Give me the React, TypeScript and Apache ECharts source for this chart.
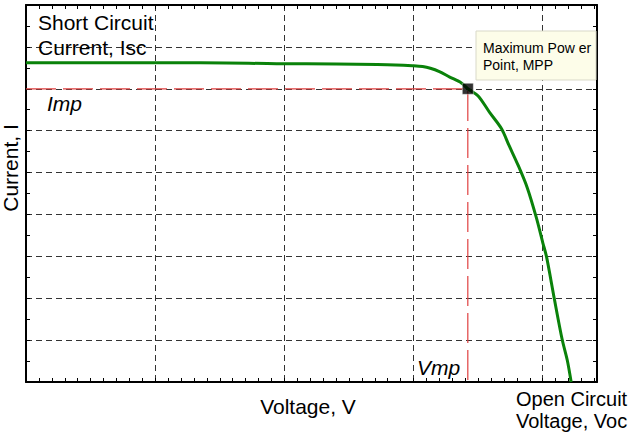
import React, { useEffect, useRef } from "react";
import * as echarts from "echarts";

// I-V curve of a solar cell (voltage in arbitrary units, current in arbitrary units)
const voltage = [0, 5, 10, 13.5, 19.4, 24, 27.2, 28.6, 29.9, 30.7, 31.3, 32.0, 32.8, 33.7, 34.2, 35.0, 35.9, 36.8, 37.4, 38.1, 38.8, 39.5, 40.0, 40.3, 40.9, 41.5, 41.9, 42.2];
const current = [7.62, 7.62, 7.62, 7.62, 7.6, 7.59, 7.58, 7.57, 7.55, 7.53, 7.49, 7.41, 7.28, 7.14, 7.0, 6.83, 6.43, 6.05, 5.64, 5.17, 4.64, 3.93, 3.33, 2.98, 1.98, 1.02, 0.52, 0];
const vmp = 34.2;
const imp = 7.0;
const xMax = 44.2;
const yMax = 9;

const labels = {
  isc: ["Short Circuit", "Current, Isc"],
  imp: "Imp",
  vmp: "Vmp",
  xName: "Voltage, V",
  yName: "Current, I",
  voc: ["Open Circuit", "Voltage, Voc"],
  mpp: ["Maximum Pow er", "Point, MPP"],
};

const FONT = "Liberation Sans, Arial, sans-serif";

export default function App() {
  const ref = useRef<HTMLDivElement>(null);
  useEffect(() => {
    document.body.style.margin = "0";
    if (!ref.current) return;
    const chart = echarts.init(ref.current, undefined, { renderer: "svg" });
    const grid = { left: 26, top: 5, right: 39, bottom: 52 };
    const axisCommon = {
      axisLine: { show: true, onZero: false, lineStyle: { color: "#000", width: 2 } },
      axisTick: { show: true, inside: true, length: 4, lineStyle: { color: "#000", width: 1 } },
      axisLabel: { show: false },
    };
    const gridLine = { show: true, lineStyle: { color: "#333", width: 1, type: [6, 4] as any } };
    const curve = voltage.map((v, i) => [v, current[i]]);
    const option: any = {
      animation: false,
      backgroundColor: "#fff",
      grid,
      xAxis: [
        {
          type: "value", min: 0, max: xMax, interval: 10, position: "bottom",
          ...axisCommon,
          minorTick: { show: true, splitNumber: 10, length: 4, lineStyle: { color: "#000" } },
          splitLine: gridLine,
        },
        {
          type: "value", min: 0, max: xMax, interval: 10, position: "top",
          ...axisCommon,
          minorTick: { show: true, splitNumber: 10, length: 4, lineStyle: { color: "#000" } },
          splitLine: { show: false },
        },
      ],
      yAxis: [
        {
          type: "value", min: 0, max: yMax, interval: 1, position: "left",
          ...axisCommon,
          minorTick: { show: true, splitNumber: 2, length: 4, lineStyle: { color: "#000" } },
          splitLine: gridLine,
        },
        {
          type: "value", min: 0, max: yMax, interval: 1, position: "right",
          ...axisCommon,
          minorTick: { show: true, splitNumber: 2, length: 4, lineStyle: { color: "#000" } },
          splitLine: { show: false },
        },
      ],
      series: [
        {
          type: "line",
          data: [[0, imp], [vmp, imp], [vmp, 0]],
          showSymbol: false,
          lineStyle: { color: "#e04040", width: 1.2, type: [30, 7] },
          z: 3,
        },
        {
          type: "line",
          data: curve,
          showSymbol: false,
          smooth: 0.3,
          lineStyle: { color: "#0a820a", width: 3 },
          z: 4,
        },
        {
          type: "scatter",
          data: [[vmp, imp]],
          symbol: "rect",
          symbolSize: 11,
          itemStyle: { color: "#000", borderColor: "#fff", borderWidth: 0.5 },
          z: 5,
        },
      ],
      graphic: [
        {
          type: "rect",
          shape: { x: 476, y: 31, width: 120, height: 49 },
          style: { fill: "#fdfde9", stroke: "#d9d9c9", lineWidth: 1 },
          z: 10,
        },
        { type: "text", x: 483, y: 48, z: 11, style: { text: labels.mpp[0], font: `14px ${FONT}`, fill: "#000", verticalAlign: "middle" } },
        { type: "text", x: 483, y: 65, z: 11, style: { text: labels.mpp[1], font: `14px ${FONT}`, fill: "#000", verticalAlign: "middle" } },
        { type: "text", x: 38, y: 22, z: 11, style: { text: labels.isc[0], font: `21px ${FONT}`, fill: "#000", verticalAlign: "middle" } },
        { type: "text", x: 38, y: 47, z: 1, style: { text: labels.isc[1], font: `21px ${FONT}`, fill: "#000", verticalAlign: "middle" } },
        { type: "text", x: 47, y: 103, z: 11, style: { text: labels.imp, font: `italic 21px ${FONT}`, fill: "#000", verticalAlign: "middle" } },
        { type: "text", x: 417, y: 367, z: 11, style: { text: labels.vmp, font: `italic 21px ${FONT}`, fill: "#000", verticalAlign: "middle" } },
        { type: "text", x: 308, y: 406, z: 11, style: { text: labels.xName, font: `21px ${FONT}`, fill: "#000", align: "center", verticalAlign: "middle" } },
        { type: "text", x: 516, y: 399, z: 11, style: { text: labels.voc[0], font: `20px ${FONT}`, fill: "#000", verticalAlign: "middle" } },
        { type: "text", x: 516, y: 421, z: 11, style: { text: labels.voc[1], font: `20px ${FONT}`, fill: "#000", verticalAlign: "middle" } },
        { type: "text", x: 10, y: 168, rotation: Math.PI / 2, z: 11, style: { text: labels.yName, font: `21px ${FONT}`, fill: "#000", align: "center", verticalAlign: "middle" } },
      ],
    };
    chart.setOption(option);
    return () => chart.dispose();
  }, []);
  return <div ref={ref} style={{ width: 636, height: 434 }} />;
}
